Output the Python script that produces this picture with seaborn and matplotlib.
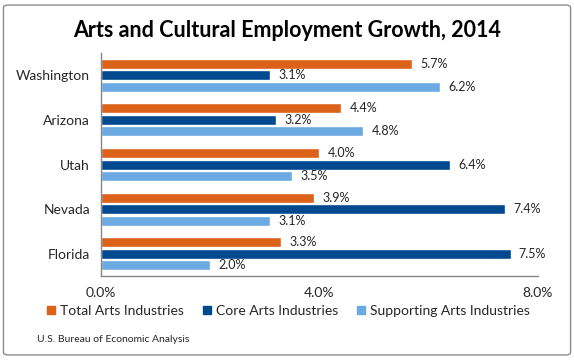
import matplotlib
matplotlib.use("Agg")
import matplotlib.pyplot as plt
import seaborn as sns
import pandas as pd
from matplotlib.patches import FancyBboxPatch

states = ["Washington", "Arizona", "Utah", "Nevada", "Florida"]
series = ["Total Arts Industries", "Core Arts Industries", "Supporting Arts Industries"]
total_arts = [5.7, 4.4, 4.0, 3.9, 3.3]
core_arts = [3.1, 3.2, 6.4, 7.4, 7.5]
supporting_arts = [6.2, 4.8, 3.5, 3.1, 2.0]
x_ticks = [0, 4, 8]
colors = ["#DC6119", "#00498F", "#6BAAE2"]

rows = []
for name, vals in zip(series, [total_arts, core_arts, supporting_arts]):
    for st, v in zip(states, vals):
        rows.append({"State": st, "Series": name, "Growth": v})
df = pd.DataFrame(rows)

sns.set_style("white")
plt.rcParams["font.family"] = ["Lato", "DejaVu Sans"]
text_col = "#262626"

fig = plt.figure(figsize=(5.74, 3.60), dpi=100)
ax = fig.add_axes([0.176, 0.233, 0.761, 0.620])

sns.barplot(data=df, y="State", x="Growth", hue="Series", orient="h",
            palette=colors, width=0.775, gap=0.13, order=states,
            hue_order=series, errorbar=None, legend=False, ax=ax, saturation=1)

for cont in ax.containers:
    ax.bar_label(cont, fmt="%.1f%%", padding=6, fontsize=9, color=text_col)

ax.set_xlim(0, 8)
ax.set_ylim(4.5, -0.5)
ax.set_xticks(x_ticks)
ax.set_xticklabels([f"{t:.1f}%" for t in x_ticks], fontsize=10, color=text_col)
ax.tick_params(axis="x", direction="out", length=4, color="#868686", pad=4)
ax.tick_params(axis="y", length=0, labelsize=10, labelcolor=text_col, pad=8)
ax.set_xlabel("")
ax.set_ylabel("")
for s in ["top", "right"]:
    ax.spines[s].set_visible(False)
for s in ["left", "bottom"]:
    ax.spines[s].set_color("#868686")
    ax.spines[s].set_linewidth(1)

fig.text(0.5, 0.897, "Arts and Cultural Employment Growth, 2014", ha="center",
         va="baseline", fontsize=15.5, fontweight="bold", color="black")

handles = [plt.Line2D([], [], marker="s", linestyle="", markersize=6,
                      color=c) for c in colors]
fig.legend(handles, series, loc="center", bbox_to_anchor=(0.5, 0.136), ncol=3,
           frameon=False, fontsize=10, handletextpad=0.1, columnspacing=1.2,
           handlelength=1.0, labelcolor=text_col)

fig.text(0.064, 0.058, "U.S. Bureau of Economic Analysis", fontsize=7.5,
         color=text_col, va="center")

fig.patches.append(FancyBboxPatch((0.006, 0.014), 0.988, 0.972,
                                  boxstyle="round,pad=0,rounding_size=0.008",
                                  transform=fig.transFigure, fill=False,
                                  edgecolor="#8c8c8c", linewidth=1))

fig.savefig("out.png", dpi=100)
